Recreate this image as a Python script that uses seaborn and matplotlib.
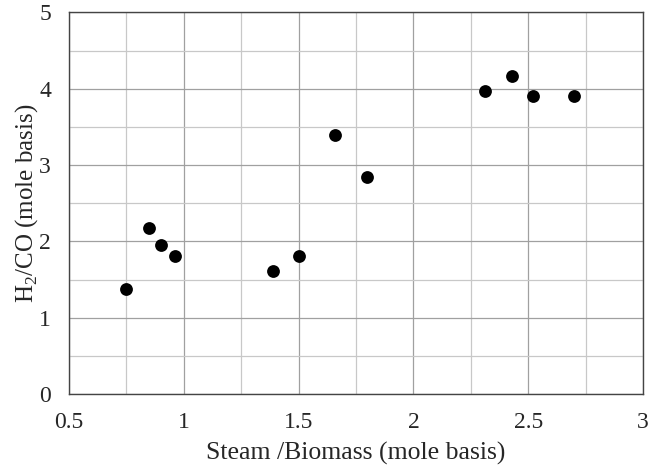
import numpy as np
import pandas as pd
import matplotlib
matplotlib.use("Agg")
import matplotlib.pyplot as plt
import seaborn as sns
from matplotlib.ticker import MultipleLocator

steam_biomass = [0.75, 0.85, 0.90, 0.96, 1.39, 1.50, 1.66, 1.80, 2.31, 2.43, 2.52, 2.70]
h2_co = [1.38, 2.18, 1.95, 1.81, 1.62, 1.81, 3.40, 2.84, 3.97, 4.16, 3.90, 3.90]

df = pd.DataFrame({"x": steam_biomass, "y": h2_co})

sns.set_style("white")
plt.rcParams['font.family'] = ['Liberation Serif', 'DejaVu Serif']
plt.rcParams['mathtext.fontset'] = 'custom'
plt.rcParams['mathtext.rm'] = 'Liberation Serif'

fig = plt.figure(figsize=(6.61, 4.66), dpi=100)
ax = fig.add_axes([0.1044, 0.1539, 0.8684, 0.8197])

sns.scatterplot(data=df, x="x", y="y", ax=ax, color="black", s=85,
                edgecolor="black", linewidth=0, zorder=3)

ax.set_xlim(0.5, 3)
ax.set_ylim(0, 5)
ax.xaxis.set_major_locator(MultipleLocator(0.5))
ax.xaxis.set_minor_locator(MultipleLocator(0.25))
ax.yaxis.set_major_locator(MultipleLocator(1))
ax.yaxis.set_minor_locator(MultipleLocator(0.5))
ax.set_xticklabels([f"{v:g}" for v in ax.get_xticks()])
ax.grid(which="major", color="#a0a0a0", linewidth=0.9)
ax.grid(which="minor", color="#c8c8c8", linewidth=0.9)
ax.tick_params(which="both", length=0, labelsize=17)
ax.tick_params(axis="x", pad=13)
ax.tick_params(axis="y", pad=13)
for sp in ax.spines.values():
    sp.set_color("#444444")
    sp.set_linewidth(1.0)

ax.set_xlabel("Steam /Biomass (mole basis)", fontsize=18.5, labelpad=6)
ax.set_ylabel(r"H$_2$/CO (mole basis)", fontsize=18, labelpad=-1)

plt.savefig("out.png", dpi=100)
